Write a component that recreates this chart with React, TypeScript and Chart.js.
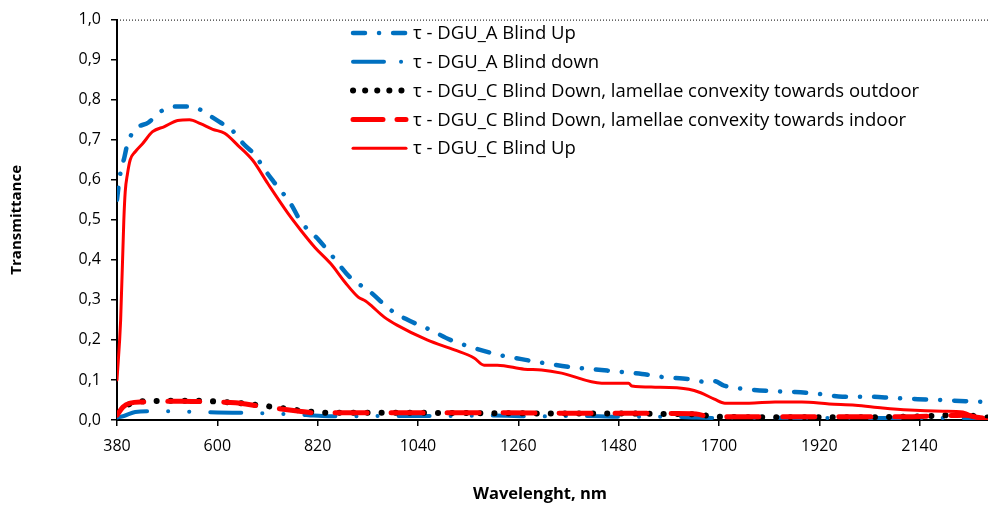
import React, { useEffect, useRef } from 'react';
import { Chart, registerables } from 'chart.js';

Chart.register(...registerables);

const FONT = '"Open Sans", Lato, sans-serif';

const X_TICKS = [380, 600, 820, 1040, 1260, 1480, 1700, 1920, 2140];
const Y_TICKS = [0, 0.1, 0.2, 0.3, 0.4, 0.5, 0.6, 0.7, 0.8, 0.9, 1.0];
const X_TITLE = 'Wavelenght, nm';
const Y_TITLE = 'Transmittance';

const LABELS = [
  'τ - DGU_A Blind Up',
  'τ - DGU_A Blind down',
  'τ - DGU_C Blind Down, lamellae convexity towards outdoor',
  'τ - DGU_C Blind Down, lamellae convexity towards indoor',
  'τ - DGU_C Blind Up',
];

const WL_A_UP = [380, 383, 388, 396, 403, 420, 449, 475, 508, 545, 576, 607, 633, 657, 684, 701, 723, 761, 783, 823, 856, 893, 931, 981, 1014, 1069, 1111, 1157, 1212, 1267, 1317, 1377, 1421, 1487, 1531, 1579, 1634, 1672, 1690, 1711, 1762, 1817, 1867, 1922, 1971, 2030, 2081, 2136, 2184, 2241, 2290];
const T_A_UP = [0.55, 0.58, 0.62, 0.655, 0.69, 0.726, 0.743, 0.77, 0.783, 0.783, 0.765, 0.743, 0.723, 0.69, 0.66, 0.63, 0.596, 0.54, 0.496, 0.449, 0.404, 0.354, 0.324, 0.274, 0.252, 0.224, 0.2, 0.182, 0.164, 0.152, 0.142, 0.132, 0.127, 0.12, 0.115, 0.107, 0.102, 0.095, 0.097, 0.086, 0.077, 0.072, 0.07, 0.065, 0.058, 0.058, 0.055, 0.052, 0.05, 0.047, 0.045];

const WL_A_DOWN = [380, 395, 420, 450, 500, 560, 600, 650, 700, 750, 800, 830, 880, 940, 1000, 1100, 1200, 1300, 1400, 1500, 1600, 1650, 1700, 1800, 1900, 2000, 2100, 2200, 2290];
const T_A_DOWN = [0.006, 0.01, 0.02, 0.022, 0.022, 0.02, 0.019, 0.018, 0.017, 0.015, 0.012, 0.01, 0.009, 0.01, 0.01, 0.01, 0.011, 0.009, 0.01, 0.008, 0.008, 0.006, 0.005, 0.006, 0.005, 0.005, 0.005, 0.005, 0.004];

const WL_C_OUT = [380, 400, 420, 450, 500, 550, 600, 640, 700, 740, 780, 820, 860, 1000, 1200, 1400, 1500, 1600, 1650, 1700, 1800, 1900, 2000, 2100, 2200, 2240, 2260, 2290];
const T_C_OUT = [0.02, 0.035, 0.045, 0.047, 0.048, 0.048, 0.046, 0.043, 0.036, 0.03, 0.024, 0.019, 0.018, 0.018, 0.017, 0.016, 0.016, 0.015, 0.014, 0.008, 0.007, 0.007, 0.007, 0.008, 0.012, 0.015, 0.01, 0.006];

const WL_C_IN = [380, 393, 409, 437, 470, 520, 567, 600, 640, 690, 723, 780, 811, 860, 1000, 1200, 1400, 1500, 1600, 1650, 1680, 1800, 1900, 2000, 2100, 2200, 2240, 2270, 2290];
const T_C_IN = [0.012, 0.032, 0.042, 0.045, 0.046, 0.047, 0.046, 0.045, 0.043, 0.035, 0.03, 0.022, 0.018, 0.018, 0.018, 0.018, 0.017, 0.017, 0.016, 0.015, 0.008, 0.008, 0.008, 0.008, 0.008, 0.011, 0.012, 0.006, 0.004];

const WL_C_UP = [380, 388, 395, 398, 403, 409, 420, 436, 458, 484, 513, 539, 563, 590, 616, 645, 678, 711, 755, 783, 814, 849, 880, 909, 925, 933, 940, 966, 994, 1060, 1120, 1163, 1185, 1214, 1273, 1311, 1355, 1443, 1502, 1509, 1560, 1634, 1660, 1690, 1713, 1766, 1823, 1882, 1942, 1999, 2059, 2118, 2191, 2235, 2263, 2290];
const T_C_UP = [0.1, 0.25, 0.5, 0.57, 0.615, 0.65, 0.67, 0.69, 0.72, 0.733, 0.748, 0.75, 0.74, 0.726, 0.716, 0.686, 0.648, 0.59, 0.516, 0.474, 0.431, 0.39, 0.344, 0.307, 0.297, 0.29, 0.283, 0.257, 0.237, 0.2, 0.175, 0.155, 0.137, 0.137, 0.127, 0.125, 0.117, 0.092, 0.092, 0.085, 0.082, 0.077, 0.068, 0.052, 0.042, 0.042, 0.045, 0.045, 0.04, 0.037, 0.03, 0.025, 0.022, 0.02, 0.007, 0.0];

const LEGEND_DASH = [[12, 14, 0.1, 14], [31, 17, 0.1, 40], [0.1, 12], [30, 14], []];

const pts = (xs: number[], ys: number[]) => xs.map((x, i) => ({ x, y: ys[i] }));

const insideLegend = {
  id: 'insideLegend',
  afterDraw(chart: any) {
    const ctx = chart.ctx;
    const x0 = 353, x1 = 406, tx = 413, top = 33, row = 28.8;
    chart.data.datasets.forEach((ds: any, i: number) => {
      const y = top + i * row;
      ctx.save();
      ctx.strokeStyle = ds.borderColor;
      ctx.lineWidth = ds.borderWidth;
      ctx.lineCap = 'round';
      ctx.setLineDash(LEGEND_DASH[i]);
      ctx.beginPath();
      ctx.moveTo(x0, y);
      ctx.lineTo(x1, y);
      ctx.stroke();
      ctx.setLineDash([]);
      ctx.fillStyle = '#000';
      ctx.font = `18.5px ${FONT}`;
      ctx.textBaseline = 'middle';
      ctx.textAlign = 'left';
      ctx.fillText(ds.label, tx, y + 1);
      ctx.restore();
    });
  },
};

const extras = {
  id: 'extras',
  afterDraw(chart: any) {
    const { ctx, chartArea } = chart;
    ctx.save();
    ctx.strokeStyle = '#000';
    ctx.lineWidth = 1;
    ctx.setLineDash([1, 2]);
    ctx.beginPath();
    ctx.moveTo(chartArea.left, chartArea.top + 0.5);
    ctx.lineTo(chartArea.right, chartArea.top + 0.5);
    ctx.stroke();
    ctx.setLineDash([]);
    ctx.fillStyle = '#000';
    ctx.font = `bold 16.5px ${FONT}`;
    ctx.textAlign = 'center';
    ctx.textBaseline = 'middle';
    ctx.fillText(X_TITLE, 540, 494);
    ctx.restore();
  },
};

export default function App() {
  const ref = useRef<HTMLCanvasElement>(null);
  useEffect(() => {
    if (!ref.current) return;
    Chart.defaults.font.family = FONT;
    const chart = new Chart(ref.current, {
      type: 'line',
      data: {
        datasets: [
          {
            label: LABELS[0],
            data: pts(WL_A_UP, T_A_UP),
            borderColor: '#0070C0',
            borderWidth: 4.5,
            borderDash: [12, 14, 0.1, 14],
            borderCapStyle: 'round',
            order: 1,
          },
          {
            label: LABELS[1],
            data: pts(WL_A_DOWN, T_A_DOWN),
            borderColor: '#0070C0',
            borderWidth: 4,
            borderDash: [31, 21, 0.1, 21, 0.1, 21],
            borderCapStyle: 'round',
            order: 5,
          },
          {
            label: LABELS[2],
            data: pts(WL_C_OUT, T_C_OUT),
            borderColor: '#000000',
            borderWidth: 6,
            borderDash: [0.1, 14],
            borderCapStyle: 'round',
            order: 4,
          },
          {
            label: LABELS[3],
            data: pts(WL_C_IN, T_C_IN),
            borderColor: '#FF0000',
            borderWidth: 5,
            borderDash: [32, 24],
            borderCapStyle: 'round',
            order: 3,
          },
          {
            label: LABELS[4],
            data: pts(WL_C_UP, T_C_UP),
            borderColor: '#FF0000',
            borderWidth: 3,
            borderCapStyle: 'round',
            order: 2,
          },
        ],
      } as any,
      options: {
        responsive: false,
        animation: false,
        devicePixelRatio: 1,
        parsing: false as any,
        elements: {
          point: { radius: 0 },
          line: { tension: 0, cubicInterpolationMode: 'monotone', fill: false },
        },
        layout: { padding: { left: 0, right: 0, top: 19, bottom: 0 } },
        plugins: {
          legend: { display: false },
          tooltip: { enabled: false },
        },
        scales: {
          x: {
            type: 'linear',
            min: 380,
            max: 2290,
            afterBuildTicks: (s: any) => {
              s.ticks = X_TICKS.map((v) => ({ value: v }));
            },
            afterFit: (s: any) => {
              s.height = 86;
            },
            grid: { display: true, drawOnChartArea: false, drawTicks: true, tickLength: 6, color: '#000', lineWidth: 1.5 },
            border: { display: true, color: '#000', width: 2 },
            ticks: {
              padding: 11,
              color: '#000',
              maxRotation: 0,
              autoSkip: false,
              font: { family: FONT, size: 16 },
              callback: (v: any) => String(v),
            },
            title: { display: false },
          },
          y: {
            type: 'linear',
            min: 0,
            max: 1,
            afterBuildTicks: (s: any) => {
              s.ticks = Y_TICKS.map((v) => ({ value: v }));
            },
            afterFit: (s: any) => {
              s.width = 117;
            },
            grid: { display: true, drawOnChartArea: false, drawTicks: true, tickLength: 6, color: '#000', lineWidth: 1.5 },
            border: { display: true, color: '#000', width: 2 },
            ticks: {
              padding: 10,
              color: '#000',
              autoSkip: false,
              font: { family: FONT, size: 16 },
              callback: (v: any) => Number(v).toFixed(1).replace('.', ','),
            },
            title: {
              display: true,
              text: Y_TITLE,
              color: '#000',
              font: { family: FONT, size: 15, weight: 'bold' },
              padding: { top: 8, bottom: 0 },
            },
          },
        },
      } as any,
      plugins: [extras, insideLegend],
    });
    return () => chart.destroy();
  }, []);

  return (
    <div style={{ position: 'fixed', left: 0, top: 0, width: 988, height: 506, background: '#fff' }}>
      <canvas ref={ref} width={988} height={506} style={{ display: 'block' }} />
    </div>
  );
}
